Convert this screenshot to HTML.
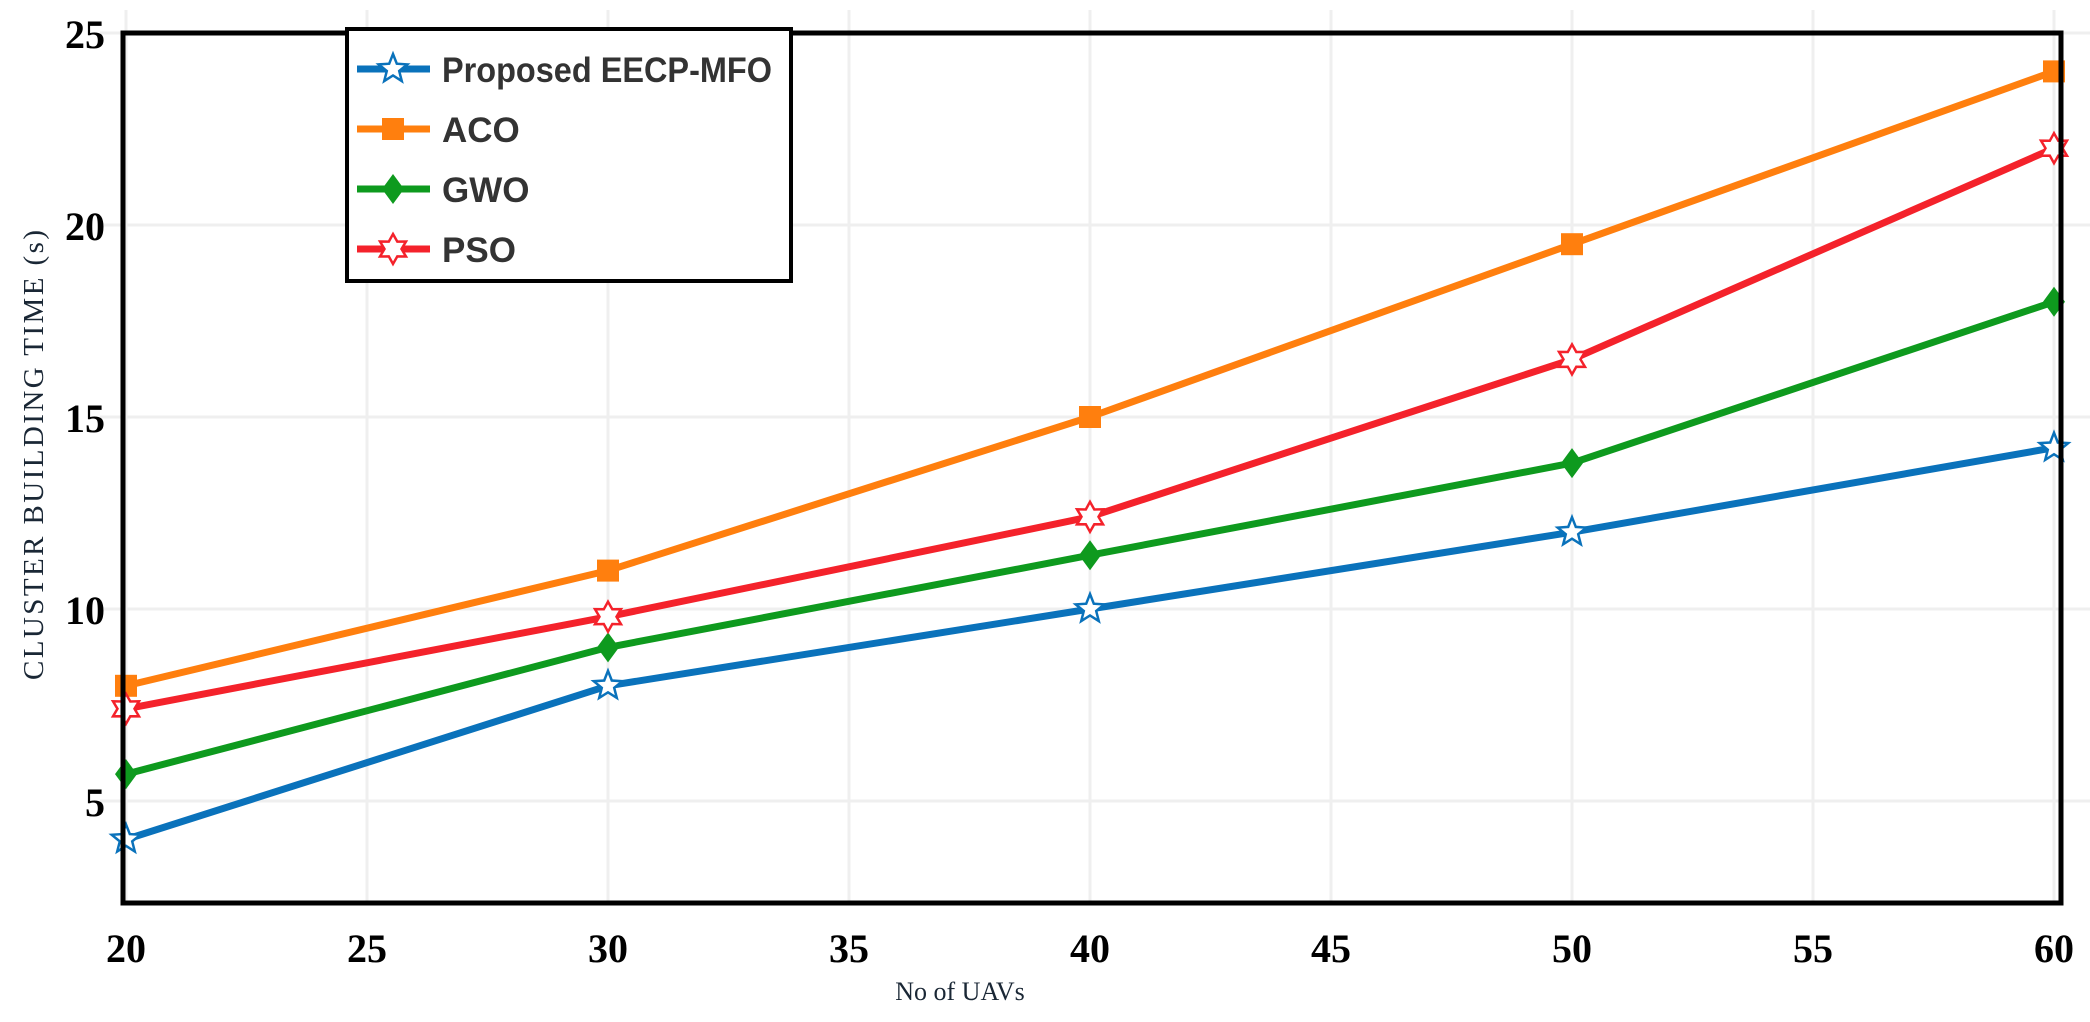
<!DOCTYPE html>
<html><head><meta charset="utf-8">
<style>
html,body{margin:0;padding:0;background:#fff;}
svg{display:block;}
</style></head>
<body>
<svg id="chart" width="2090" height="1022" viewBox="0 0 2090 1022" xmlns="http://www.w3.org/2000/svg">
<rect x="0" y="0" width="2090" height="1022" fill="#fff"/>
<g id="grid"></g>
<g id="series"></g>
<rect x="123" y="33" width="1938" height="870" fill="none" stroke="#000" stroke-width="5"/>
<g id="ticks"></g>
<text x="43" y="455" transform="rotate(-90 43 455)" text-anchor="middle" font-family="Liberation Serif, serif" font-size="29" fill="#1a2735" textLength="450">CLUSTER BUILDING TIME (s)</text>
<text x="960" y="1000" text-anchor="middle" font-family="Liberation Serif, serif" font-size="26" fill="#1a2735">No of UAVs</text>
<g id="legend">
<rect x="347" y="29" width="444" height="252" fill="#fff" stroke="#000" stroke-width="4"/>
</g>
</svg>
<script>
const categories = [20, 30, 40, 50, 60];
const proposedValues = [4.0, 8.0, 10.0, 12.0, 14.2];
const acoValues = [8.0, 11.0, 15.0, 19.5, 24.0];
const gwoValues = [5.7, 9.0, 11.4, 13.8, 18.0];
const psoValues = [7.4, 9.8, 12.4, 16.5, 22.0];
const seriesNames = ["Proposed EECP-MFO", "ACO", "GWO", "PSO"];
const xTickLabels = [20, 25, 30, 35, 40, 45, 50, 55, 60];
const yTickLabels = [5, 10, 15, 20, 25];

const NS = "http://www.w3.org/2000/svg";
function xs(v){ return 126 + (v - 20) * 48.2; }
function ys(v){ return 609 - (v - 10) * 38.4; }
function mk(tag, attrs, parent){
  const e = document.createElementNS(NS, tag);
  for (const k in attrs) e.setAttribute(k, attrs[k]);
  parent.appendChild(e);
  return e;
}
const grid = document.getElementById('grid');
const ticks = document.getElementById('ticks');
xTickLabels.forEach(v => {
  const l = mk('line', {x1: xs(v), x2: xs(v), y1: 10, y2: 903, stroke: '#efefef', 'stroke-width': 3}, grid);
  
  
  const t = mk('text', {x: xs(v), y: 962, 'text-anchor': 'middle', 'font-family': 'Liberation Serif, serif', 'font-weight': 'bold', 'font-size': 40, fill: '#000'}, ticks);
  t.textContent = v;
  
  
});
yTickLabels.forEach(v => {
  const l = mk('line', {x1: 100, x2: 2090, y1: ys(v), y2: ys(v), stroke: '#efefef', 'stroke-width': 3}, grid);
  
  
  const t = mk('text', {x: 105, y: ys(v) + 15, 'text-anchor': 'end', 'font-family': 'Liberation Serif, serif', 'font-weight': 'bold', 'font-size': 40, fill: '#000'}, ticks);
  t.textContent = v;
  
  
});

function starPts(cx, cy, n, ro, ri){
  const p = [];
  for (let i = 0; i < 2*n; i++){
    const a = -Math.PI/2 + i*Math.PI/n;
    const r = i % 2 ? ri : ro;
    p.push((cx + r*Math.cos(a)).toFixed(1) + ',' + (cy + r*Math.sin(a)).toFixed(1));
  }
  return p.join(' ');
}
function marker(kind, cx, cy, color, parent){
  let e;
  if (kind === 'star5') e = mk('polygon', {points: starPts(cx, cy, 5, 15, 6.5), fill: '#fff', stroke: color, 'stroke-width': 2.5}, parent);
  else if (kind === 'star6') e = mk('polygon', {points: starPts(cx, cy, 6, 15, 8.5), fill: '#fff', stroke: color, 'stroke-width': 2.5}, parent);
  else if (kind === 'square') e = mk('rect', {x: cx-11, y: cy-11, width: 22, height: 22, fill: color}, parent);
  else e = mk('polygon', {points: `${cx},${cy-15} ${cx+11},${cy} ${cx},${cy+15} ${cx-11},${cy}`, fill: color}, parent);
  return e;
}
const seriesDefs = [
  {vals: proposedValues, color: '#0a72bb', kind: 'star5', key: 'proposed'},
  {vals: acoValues, color: '#ff7f0e', kind: 'square', key: 'aco'},
  {vals: gwoValues, color: '#0e9a1e', kind: 'diamond', key: 'gwo'},
  {vals: psoValues, color: '#f4222b', kind: 'star6', key: 'pso'}
];
const sg = document.getElementById('series');
seriesDefs.forEach(s => {
  const g = mk('g', {}, sg);
  
  
  const pts = categories.map((c, i) => xs(c) + ',' + ys(s.vals[i])).join(' ');
  const pl = mk('polyline', {points: pts, fill: 'none', stroke: s.color, 'stroke-width': 7, 'stroke-linejoin': 'round'}, g);
  
  
  categories.forEach((c, i) => {
    const m = marker(s.kind, xs(c), ys(s.vals[i]), s.color, g);
    
    
  });
});
const lg = document.getElementById('legend');
seriesDefs.forEach((s, i) => {
  const cy = 69 + i * 60;
  const g = mk('g', {}, lg);
  
  
  mk('line', {x1: 357, x2: 430, y1: cy, y2: cy, stroke: s.color, 'stroke-width': 7}, g);
  marker(s.kind, 393, cy, s.color, g);
  const attrs = {x: 442, y: cy + 13, 'font-family': 'Liberation Sans, sans-serif', 'font-weight': 'bold', 'font-size': 35, fill: '#333'};
  if (i === 0) { attrs.textLength = 330; attrs.lengthAdjust = 'spacingAndGlyphs'; }
  const t = mk('text', attrs, g);
  t.textContent = seriesNames[i];
  
  
});
</script>
</body></html>
